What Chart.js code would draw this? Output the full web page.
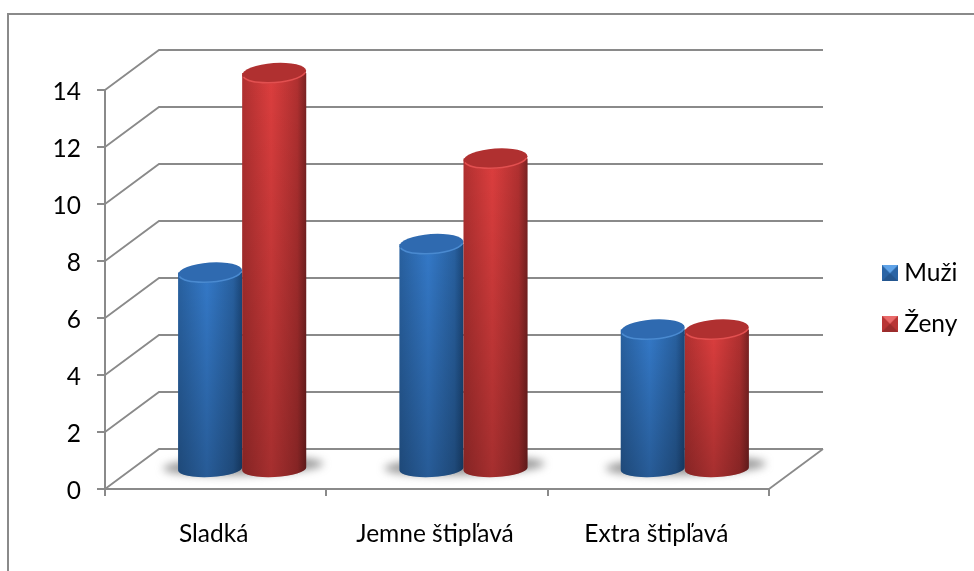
<!DOCTYPE html>
<html>
<head>
<meta charset="utf-8">
<script src="https://cdn.jsdelivr.net/npm/chart.js@4"></script>
<style>
  html, body { margin: 0; padding: 0; background: #fff; }
  canvas { display: block; }
</style>
</head>
<body>
<canvas id="myChart" width="974" height="571"></canvas>
<script>
var categories = ["Sladká", "Jemne štipľavá", "Extra štipľavá"];
var muzi = [7, 8, 5];
var zeny = [14, 11, 5];

var gray = "#8a8a8a";
var depthX = 54, depthY = -40;       // back wall offset from the front axes
var barX = 26.5, barY = -17;         // bars stand in the middle of the floor

var blue = { edge: "#28609f", mid: "#3479c8", dark: "#1a4678", cap: "#2f6ab0", rim: "#4a8ad0" };
var red = { edge: "#b03030", mid: "#dc3e3e", dark: "#7a2222", cap: "#b03030", rim: "#e25050" };

function legendIcon(top, side, bottom) {
  var c = document.createElement("canvas");
  c.width = 16; c.height = 16;
  var g = c.getContext("2d");
  g.fillStyle = side; g.fillRect(0, 0, 16, 16);
  g.fillStyle = top;
  g.beginPath(); g.moveTo(0, 0); g.lineTo(16, 0); g.lineTo(8, 8); g.fill();
  g.fillStyle = bottom;
  g.beginPath(); g.moveTo(0, 16); g.lineTo(16, 16); g.lineTo(8, 8); g.fill();
  return c;
}
var icons = [legendIcon("#5fa3e8", "#2a64a5", "#24568f"), legendIcon("#e96a6a", "#b83535", "#9a2c2c")];

function drawCylinder(ctx, bar, col) {
  var w = bar.width, cx = bar.x + barX, l = cx - w / 2, r = cx + w / 2;
  var top = bar.y + barY, bottom = bar.base + barY - 2;
  var ry = 10;

  ctx.beginPath();
  ctx.moveTo(l, top);
  ctx.lineTo(l, bottom);
  ctx.ellipse(cx, bottom, w / 2, ry - 2, -0.05, Math.PI, 0, true);
  ctx.lineTo(r, top);
  ctx.closePath();

  var g = ctx.createLinearGradient(l, 0, r, 0);
  g.addColorStop(0, col.edge);
  g.addColorStop(0.45, col.mid);
  g.addColorStop(0.86, col.edge);
  g.addColorStop(1, col.dark);
  ctx.fillStyle = g;
  ctx.fill();

  // darker towards the floor
  var v = ctx.createLinearGradient(0, top, 0, bottom + ry);
  v.addColorStop(0, "rgba(0,0,0,0)");
  v.addColorStop(1, "rgba(0,0,0,0.25)");
  ctx.fillStyle = v;
  ctx.fill();

  ctx.beginPath();
  ctx.ellipse(cx, top, w / 2, ry, -0.07, 0, Math.PI * 2);
  ctx.fillStyle = col.cap;
  ctx.fill();

  ctx.beginPath();
  ctx.ellipse(cx, top, w / 2 - 0.5, ry - 0.5, -0.07, 0.2, Math.PI - 0.2);
  ctx.strokeStyle = col.rim;
  ctx.lineWidth = 1.5;
  ctx.stroke();
}

var scenery = {
  id: "scenery",
  beforeLayout: function (chart) {
    var legend = chart.legend;
    if (legend && !legend.wrapped) {
      var fit = legend.fit;
      legend.fit = function () { fit.call(this); this.width = 205; };
      legend.wrapped = true;
    }
  },
  afterLayout: function (chart) {
    var legend = chart.legend;
    legend.left = 862; legend.right = 974;
    legend.top = 235; legend.bottom = 571;
  },
  beforeDraw: function (chart) {
    var ctx = chart.ctx;
    ctx.save();
    ctx.strokeStyle = gray;
    ctx.lineWidth = 2;
    ctx.beginPath();
    ctx.moveTo(8, 571); ctx.lineTo(8, 14); ctx.lineTo(974, 14);
    ctx.stroke();
    ctx.restore();
  },
  beforeDatasetsDraw: function (chart) {
    var ctx = chart.ctx, y = chart.scales.y, a = chart.chartArea;
    ctx.save();
    ctx.strokeStyle = gray;
    ctx.lineWidth = 1.8;
    y.ticks.forEach(function (t) {
      var py = y.getPixelForValue(t.value);
      ctx.beginPath();
      ctx.moveTo(a.left, py);
      ctx.lineTo(a.left + depthX, py + depthY);
      ctx.lineTo(a.right + depthX, py + depthY);
      ctx.stroke();
    });
    // floor edge on the right
    ctx.beginPath();
    ctx.moveTo(a.right, a.bottom);
    ctx.lineTo(a.right + depthX, a.bottom + depthY);
    ctx.stroke();

    // soft shadows on the floor
    ctx.filter = "blur(4px)";
    ctx.fillStyle = "rgba(95,95,95,0.65)";
    chart.getDatasetMeta(0).data.forEach(function (bar, i) {
      var other = chart.getDatasetMeta(1).data[i];
      var cx = (bar.x + other.x) / 2 + barX;
      ctx.beginPath();
      ctx.ellipse(cx + 1, bar.base + barY - 5, bar.width + 16, 9, -0.03, 0, Math.PI * 2);
      ctx.fill();
    });
    ctx.restore();
  },
  // the library paints the first dataset last, here the red ones must lie on top
  beforeDatasetDraw: function () { return false; },
  afterDatasetsDraw: function (chart) {
    var ctx = chart.ctx;
    ctx.save();
    chart.getDatasetMeta(0).data.forEach(function (bar) { drawCylinder(ctx, bar, blue); });
    chart.getDatasetMeta(1).data.forEach(function (bar) { drawCylinder(ctx, bar, red); });
    ctx.restore();
  }
};

var chart = new Chart(document.getElementById("myChart"), {
  type: "bar",
  data: {
    labels: categories,
    datasets: [
      { label: "Muži", data: muzi, backgroundColor: blue.mid },
      { label: "Ženy", data: zeny, backgroundColor: red.mid }
    ]
  },
  options: {
    responsive: false,
    animation: false,
    layout: { padding: { top: 90, left: 0, right: 0, bottom: 0 } },
    datasets: { bar: { barPercentage: 1, categoryPercentage: 0.579 } },
    plugins: {
      tooltip: { enabled: false },
      legend: {
        position: "right",
        align: "start",
        labels: {
          usePointStyle: true,
          boxWidth: 4,
          padding: 26,
          color: "#000",
          font: { family: "Lato", size: 24.5 },
          generateLabels: function (chart) {
            return Chart.defaults.plugins.legend.labels.generateLabels(chart).map(function (item) {
              item.pointStyle = icons[item.datasetIndex];
              return item;
            });
          }
        }
      }
    },
    scales: {
      x: {
        afterFit: function (scale) { scale.height = 82; },
        grid: { drawOnChartArea: false, drawTicks: true, tickLength: 7, color: gray, lineWidth: 2 },
        border: { color: gray, width: 2 },
        ticks: { color: "#000", padding: 23, labelOffset: -2, maxRotation: 0, font: { family: "Lato", size: 24.5 } }
      },
      y: {
        min: 0,
        max: 14,
        afterFit: function (scale) { scale.width = 105; },
        grid: { drawOnChartArea: false, drawTicks: true, tickLength: 8, color: gray, lineWidth: 2 },
        border: { color: gray, width: 2 },
        ticks: { stepSize: 2, color: "#000", padding: 16, labelOffset: 2, font: { family: "Lato", size: 24.5 } }
      }
    }
  },
  plugins: [scenery]
});
</script>
</body>
</html>
